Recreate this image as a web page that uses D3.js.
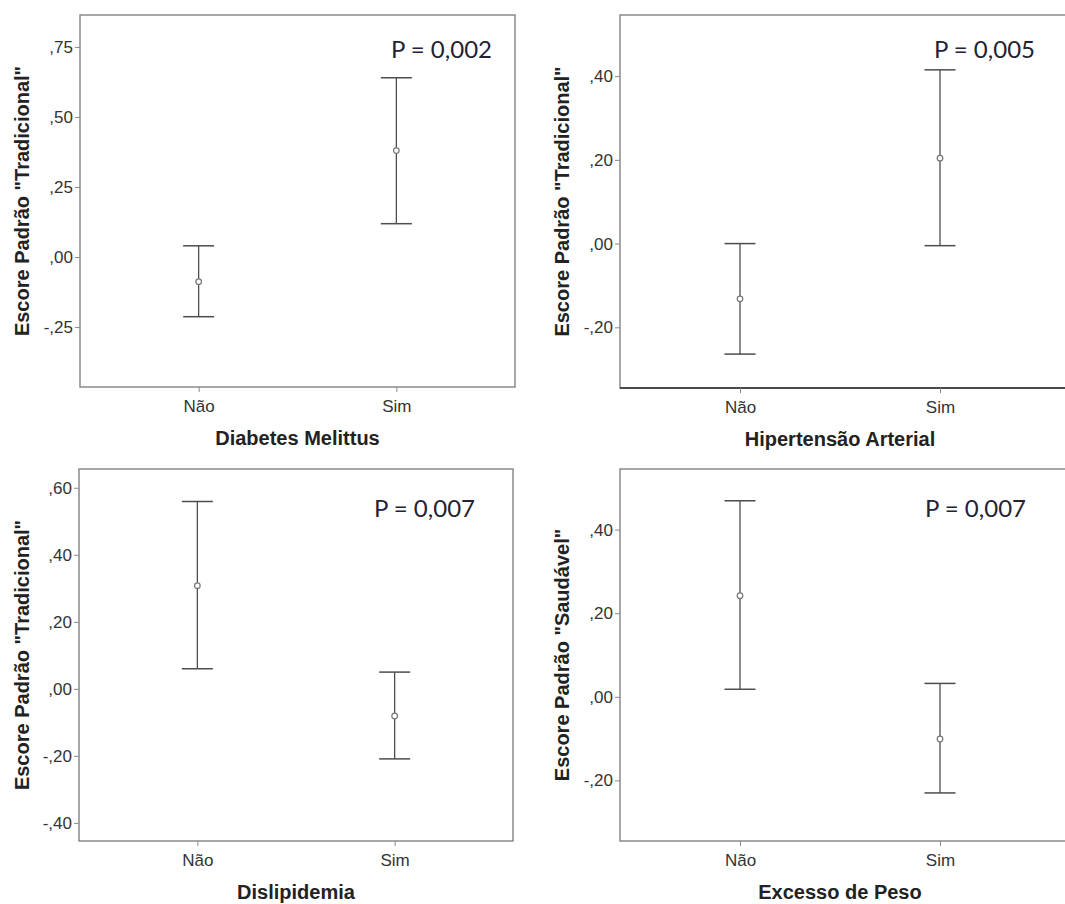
<!DOCTYPE html>
<html>
<head>
<meta charset="utf-8">
<script src="https://cdn.jsdelivr.net/npm/d3@7"></script>
<style>
    body { margin: 0; background: #fff; }
    .tick text { font-family: "Liberation Sans", Arial, sans-serif; font-size: 17px; fill: #333; }
    .axis-title { font-family: "Liberation Sans", Arial, sans-serif; font-size: 20px; font-weight: bold; fill: #222; }
    .p-value { font-family: Lato, "Open Sans", sans-serif; font-size: 24px; fill: #222233; }
</style>
</head>
<body>
<div id="chart"></div>
<script>
var categories = ["Não", "Sim"];

// Diabetes Melittus
var dmMean = [-0.088, 0.380];
var dmLower = [-0.213, 0.119];
var dmUpper = [0.040, 0.640];
var dmTicks = [0.75, 0.50, 0.25, 0, -0.25];
var dmDomain = [-0.464, 0.864];

// Hipertensao Arterial
var haMean = [-0.132, 0.204];
var haLower = [-0.264, -0.005];
var haUpper = [0.000, 0.415];
var haTicks = [0.40, 0.20, 0, -0.20];
var haDomain = [-0.345, 0.546];

// Dislipidemia
var dlMean = [0.308, -0.081];
var dlLower = [0.060, -0.209];
var dlUpper = [0.559, 0.050];
var dlTicks = [0.60, 0.40, 0.20, 0, -0.20, -0.40];
var dlDomain = [-0.454, 0.656];

// Excesso de Peso
var epMean = [0.242, -0.101];
var epLower = [0.018, -0.230];
var epUpper = [0.469, 0.032];
var epTicks = [0.40, 0.20, 0, -0.20];
var epDomain = [-0.345, 0.545];

var xTitles = ["Diabetes Melittus", "Hipertensão Arterial", "Dislipidemia", "Excesso de Peso"];
var yTitles = ["Escore Padrão \"Tradicional\"", "Escore Padrão \"Tradicional\"",
    "Escore Padrão \"Tradicional\"", "Escore Padrão \"Saudável\""];
var pLabels = ["P = 0,002", "P = 0,005", "P = 0,007", "P = 0,007"];

var width = 1065;
var height = 904;

var svg = d3.select('#chart')
    .append('svg')
    .attr('width', width)
    .attr('height', height);

// layout of the four panels
var panels = [
    { left: 80, top: 15, right: 515, bottom: 387, frameRight: 515, pX: 492, pY: 58, labelX: 22,
      mean: dmMean, lower: dmLower, upper: dmUpper, ticks: dmTicks, domain: dmDomain },
    { left: 620, top: 15, right: 1060, bottom: 388, frameRight: 1080, pX: 1035, pY: 58, labelX: 562, darkBottom: true,
      mean: haMean, lower: haLower, upper: haUpper, ticks: haTicks, domain: haDomain },
    { left: 79, top: 469, right: 513, bottom: 841, frameRight: 513, pX: 475, pY: 517, labelX: 22,
      mean: dlMean, lower: dlLower, upper: dlUpper, ticks: dlTicks, domain: dlDomain },
    { left: 620, top: 469, right: 1060, bottom: 841, frameRight: 1080, pX: 1026, pY: 517, labelX: 562,
      mean: epMean, lower: epLower, upper: epUpper, ticks: epTicks, domain: epDomain }
];

var capHalf = 15.5;
var frameColor = '#8a8a8a';
var barColor = '#4d4d4d';

function fmt(v) {
    // SPSS style: ,75  -,25  ,00
    return d3.format('.2f')(v).replace('\u2212', '-').replace('0.', '.').replace('.', ',');
}

panels.forEach(function (p, k) {
    var g = svg.append('g');

    var x = d3.scalePoint()
        .domain(categories)
        .range([p.left, p.right])
        .padding(0.6);

    var y = d3.scaleLinear()
        .domain(p.domain)
        .range([p.bottom, p.top]);

    // frame
    g.append('rect')
        .attr('x', p.left)
        .attr('y', p.top)
        .attr('width', p.frameRight - p.left)
        .attr('height', p.bottom - p.top)
        .attr('fill', 'none')
        .attr('stroke', frameColor)
        .attr('stroke-width', 1.5);

    if (p.darkBottom) {
        g.append('line')
            .attr('x1', p.left).attr('x2', width)
            .attr('y1', p.bottom).attr('y2', p.bottom)
            .attr('stroke', '#4a4a4a')
            .attr('stroke-width', 2.2);
    }

    var yAxis = g.append('g')
        .attr('transform', 'translate(' + p.left + ',0)')
        .call(d3.axisLeft(y).tickValues(p.ticks).tickFormat(fmt).tickSize(5).tickPadding(2));
    yAxis.select('.domain').remove();
    yAxis.selectAll('.tick line').attr('stroke', frameColor);

    var xAxis = g.append('g')
        .attr('transform', 'translate(0,' + p.bottom + ')')
        .call(d3.axisBottom(x).tickSize(5).tickPadding(8));
    xAxis.select('.domain').remove();
    xAxis.selectAll('.tick line').attr('stroke', frameColor);

    var rows = categories.map(function (c, i) {
        return { cat: c, mean: p.mean[i], lower: p.lower[i], upper: p.upper[i] };
    });

    var bars = g.selectAll('.bar')
        .data(rows)
        .enter()
        .append('g')
        .attr('class', 'bar');

    bars.append('line')
        .attr('x1', function (d) { return x(d.cat); })
        .attr('x2', function (d) { return x(d.cat); })
        .attr('y1', function (d) { return y(d.lower); })
        .attr('y2', function (d) { return y(d.upper); })
        .attr('stroke', barColor)
        .attr('stroke-width', 1.3);

    bars.append('line')
        .attr('x1', function (d) { return x(d.cat) - capHalf; })
        .attr('x2', function (d) { return x(d.cat) + capHalf; })
        .attr('y1', function (d) { return y(d.upper); })
        .attr('y2', function (d) { return y(d.upper); })
        .attr('stroke', barColor)
        .attr('stroke-width', 1.5);

    bars.append('line')
        .attr('x1', function (d) { return x(d.cat) - capHalf; })
        .attr('x2', function (d) { return x(d.cat) + capHalf; })
        .attr('y1', function (d) { return y(d.lower); })
        .attr('y2', function (d) { return y(d.lower); })
        .attr('stroke', barColor)
        .attr('stroke-width', 1.5);

    bars.append('circle')
        .attr('cx', function (d) { return x(d.cat); })
        .attr('cy', function (d) { return y(d.mean); })
        .attr('r', 2.8)
        .attr('fill', '#fff')
        .attr('stroke', '#777')
        .attr('stroke-width', 1.2);

    // titles
    g.append('text')
        .attr('class', 'axis-title')
        .attr('x', (p.left + p.right) / 2)
        .attr('y', p.bottom + 58)
        .attr('text-anchor', 'middle')
        .text(xTitles[k]);

    g.append('text')
        .attr('class', 'axis-title')
        .attr('transform', 'translate(' + p.labelX + ',' + ((p.top + p.bottom) / 2) + ') rotate(-90)')
        .attr('dy', '0.35em')
        .attr('text-anchor', 'middle')
        .text(yTitles[k]);

    g.append('text')
        .attr('class', 'p-value')
        .attr('x', p.pX)
        .attr('y', p.pY)
        .attr('text-anchor', 'end')
        .text(pLabels[k]);
});
</script>
</body>
</html>
